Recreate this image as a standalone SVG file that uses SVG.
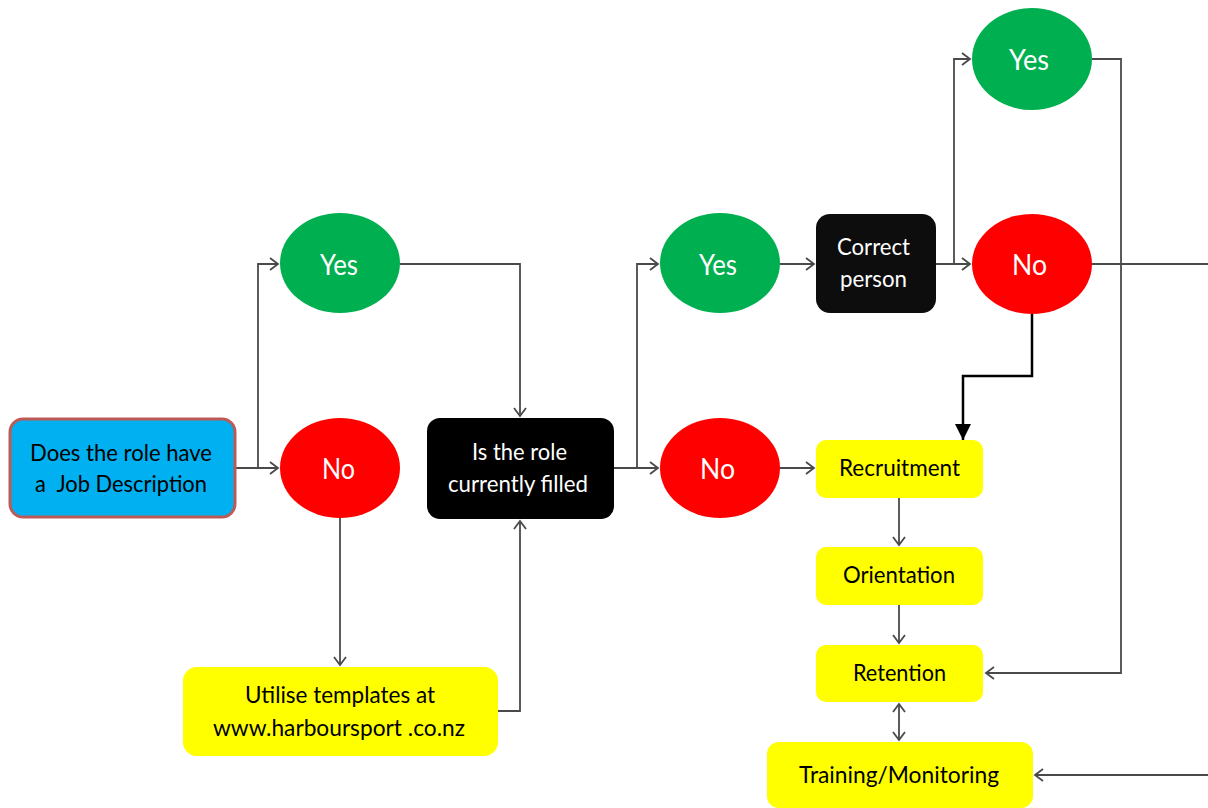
<svg xmlns="http://www.w3.org/2000/svg" width="1208" height="808" viewBox="0 0 1208 808">
<style>
.c{fill:none;stroke:#4a4a4a;stroke-width:1.8}
.t{font-family:Lato,"Liberation Sans",sans-serif;font-size:23px;text-anchor:middle}
.big{font-size:28px}
.w{fill:#fff}
.k{fill:#000}
</style>
<defs>
<marker id="a" markerUnits="userSpaceOnUse" markerWidth="14" markerHeight="16" refX="9" refY="7" orient="auto-start-reverse">
<path d="M1,1 L9,7 L1,13" fill="none" stroke="#4a4a4a" stroke-width="1.8"/>
</marker>
<marker id="b" markerUnits="userSpaceOnUse" markerWidth="18" markerHeight="18" refX="16" refY="8" orient="auto">
<path d="M0,0 L16,8 L0,16 Z" fill="#000"/>
</marker>
</defs>
<rect width="1208" height="808" fill="#fff"/>
<g id="connectors">
<path class="c" d="M235,468 H278" marker-end="url(#a)"/>
<path class="c" d="M258,468 V264 H278" marker-end="url(#a)"/>
<path class="c" d="M400,264 H520 V416" marker-end="url(#a)"/>
<path class="c" d="M340,518 V665" marker-end="url(#a)"/>
<path class="c" d="M498,711 H520 V521" marker-end="url(#a)"/>
<path class="c" d="M614,468 H658" marker-end="url(#a)"/>
<path class="c" d="M637,468 V264 H658" marker-end="url(#a)"/>
<path class="c" d="M780,264 H814" marker-end="url(#a)"/>
<path class="c" d="M780,468 H814" marker-end="url(#a)"/>
<path class="c" d="M936,264 H970" marker-end="url(#a)"/>
<path class="c" d="M954,264 V59 H970" marker-end="url(#a)"/>
<path class="c" d="M1092,59 H1121 V673 H986" marker-end="url(#a)"/>
<path class="c" d="M1092,264 H1208"/>
<path class="c" d="M1208,775 H1035" marker-end="url(#a)"/>
<path class="c" d="M899,498 V545" marker-end="url(#a)"/>
<path class="c" d="M899,605 V643" marker-end="url(#a)"/>
<path class="c" d="M899,704 V740" marker-start="url(#a)" marker-end="url(#a)"/>
<path d="M1032,313 V376 H963 V440" fill="none" stroke="#000" stroke-width="2.5" marker-end="url(#b)"/>
</g>
<g id="n-jd">
<rect x="10" y="419" width="225" height="98" rx="13" fill="#00B0F0" stroke="#BE5A56" stroke-width="3"/>
<text class="t k" x="121" y="461" textLength="182" lengthAdjust="spacingAndGlyphs">Does the role have</text>
<text class="t k" x="121" y="492" textLength="172" lengthAdjust="spacingAndGlyphs" xml:space="preserve">a  Job Description</text>
</g>
<g id="n-yes1">
<ellipse cx="340" cy="263" rx="60" ry="50" fill="#00B050"/>
<text class="t big w" x="339" y="275" textLength="38" lengthAdjust="spacingAndGlyphs">Yes</text>
</g>
<g id="n-no1">
<ellipse cx="340" cy="468" rx="60" ry="50" fill="#FF0000"/>
<text class="t big w" x="338.5" y="479" textLength="33" lengthAdjust="spacingAndGlyphs">No</text>
</g>
<g id="n-filled">
<rect x="427" y="418" width="187" height="101" rx="13" fill="#000"/>
<text class="t w" x="519.5" y="460" textLength="95" lengthAdjust="spacingAndGlyphs">Is the role</text>
<text class="t w" x="518" y="492" textLength="140" lengthAdjust="spacingAndGlyphs">currently filled</text>
</g>
<g id="n-templates">
<rect x="183" y="667" width="315" height="89" rx="14" fill="#FFFF00"/>
<text class="t k" x="340" y="703" textLength="190" lengthAdjust="spacingAndGlyphs">Utilise templates at</text>
<text class="t k" x="339" y="736" textLength="252" lengthAdjust="spacingAndGlyphs">www.harboursport .co.nz</text>
</g>
<g id="n-yes2">
<ellipse cx="720" cy="263" rx="60" ry="50" fill="#00B050"/>
<text class="t big w" x="718" y="275" textLength="38" lengthAdjust="spacingAndGlyphs">Yes</text>
</g>
<g id="n-no2">
<ellipse cx="720" cy="468" rx="60" ry="50" fill="#FF0000"/>
<text class="t big w" x="717.5" y="479" textLength="35" lengthAdjust="spacingAndGlyphs">No</text>
</g>
<g id="n-correct">
<rect x="816" y="214" width="120" height="99" rx="14" fill="#0D0D0D"/>
<text class="t w" x="873.5" y="255" textLength="73" lengthAdjust="spacingAndGlyphs">Correct</text>
<text class="t w" x="873.5" y="287" textLength="67" lengthAdjust="spacingAndGlyphs">person</text>
</g>
<g id="n-yes3">
<ellipse cx="1032" cy="59" rx="60" ry="51" fill="#00B050"/>
<text class="t big w" x="1029" y="70" textLength="40" lengthAdjust="spacingAndGlyphs">Yes</text>
</g>
<g id="n-no3">
<ellipse cx="1032" cy="264" rx="60" ry="50" fill="#FF0000"/>
<text class="t big w" x="1029.5" y="275" textLength="35" lengthAdjust="spacingAndGlyphs">No</text>
</g>
<g id="n-recruitment">
<rect x="816" y="440" width="167" height="58" rx="10" fill="#FFFF00"/>
<text class="t k" x="899.5" y="476" textLength="121" lengthAdjust="spacingAndGlyphs">Recruitment</text>
</g>
<g id="n-orientation">
<rect x="816" y="547" width="167" height="58" rx="10" fill="#FFFF00"/>
<text class="t k" x="899" y="583" textLength="112" lengthAdjust="spacingAndGlyphs">Orientation</text>
</g>
<g id="n-retention">
<rect x="816" y="645" width="167" height="57" rx="10" fill="#FFFF00"/>
<text class="t k" x="899.5" y="681" textLength="93" lengthAdjust="spacingAndGlyphs">Retention</text>
</g>
<g id="n-training">
<rect x="767" y="742" width="266" height="66" rx="12" fill="#FFFF00"/>
<text class="t k" x="899" y="783" textLength="200" lengthAdjust="spacingAndGlyphs">Training/Monitoring</text>
</g>
</svg>
